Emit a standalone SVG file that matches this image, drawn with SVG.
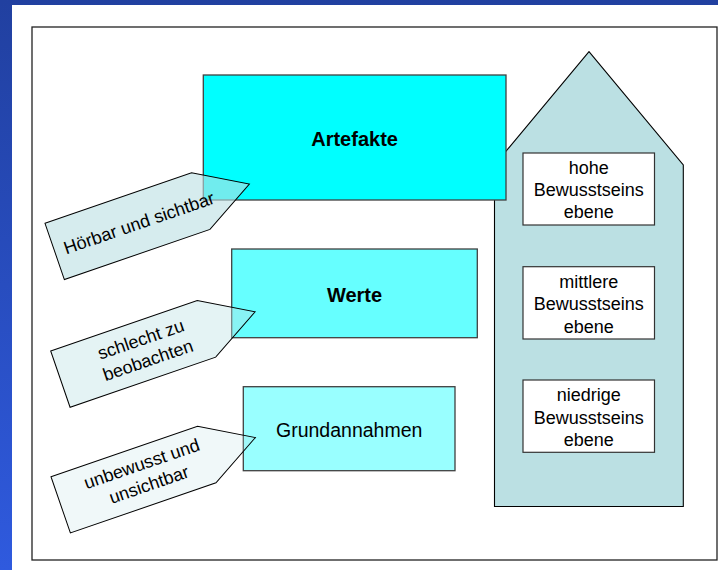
<svg xmlns="http://www.w3.org/2000/svg" width="718" height="570" viewBox="0 0 718 570">
  <defs>
    <linearGradient id="frameGrad" x1="0" y1="0" x2="0" y2="1">
      <stop offset="0" stop-color="#2140a0"/>
      <stop offset="1" stop-color="#2f5ade"/>
    </linearGradient>
    <!-- pointed label tag, drawn unrotated; each instance is rotated into place -->
    <polygon id="tag" points="0,0 155,0 206,29.5 154,59.5 0,59.5"/>
  </defs>
  <style>
    text { font-family: "Liberation Sans", Arial, sans-serif; fill: #000; }
    .box { stroke: #404040; stroke-width: 1.3; }
    .level { fill: #ffffff; stroke: #333; stroke-width: 1.2; }
    .title { font-size: 20px; font-weight: bold; text-anchor: middle; }
    .plain { font-size: 19.5px; text-anchor: middle; }
    .small { font-size: 18px; text-anchor: middle; }
    .tag { stroke: #000; stroke-width: 1; }
  </style>

  <!-- slide background and white page -->
  <rect x="0" y="0" width="718" height="570" fill="url(#frameGrad)"/>
  <rect x="12" y="5" width="706" height="565" fill="#ffffff"/>
  <rect x="32" y="27" width="685" height="533" fill="#ffffff" stroke="#222" stroke-width="1.3"/>

  <!-- house of awareness levels -->
  <g id="house">
    <polygon points="494.5,165 589,51.7 683.3,165 683.3,506.5 494.5,506.5" fill="#bbe0e3" stroke="#000" stroke-width="1.1"/>
  </g>
  <g id="level-high">
    <rect class="level" x="523" y="153" width="131.5" height="72"/>
    <text class="small" x="588.75" y="173.5">hohe</text>
    <text class="small" x="588.75" y="196">Bewusstseins</text>
    <text class="small" x="588.75" y="218.3">ebene</text>
  </g>
  <g id="level-mid">
    <rect class="level" x="523" y="266.7" width="131.5" height="72.3"/>
    <text class="small" x="588.75" y="287.5">mittlere</text>
    <text class="small" x="588.75" y="310">Bewusstseins</text>
    <text class="small" x="588.75" y="332.5">ebene</text>
  </g>
  <g id="level-low">
    <rect class="level" x="523" y="380" width="131.5" height="72.3"/>
    <text class="small" x="588.75" y="401">niedrige</text>
    <text class="small" x="588.75" y="423.5">Bewusstseins</text>
    <text class="small" x="588.75" y="446">ebene</text>
  </g>

  <!-- culture layers -->
  <g id="artefakte">
    <rect class="box" x="203.3" y="75" width="302.7" height="125" fill="#00ffff"/>
    <text class="title" x="354.6" y="146">Artefakte</text>
  </g>
  <g id="werte">
    <rect class="box" x="231.7" y="249" width="245.6" height="88.7" fill="#66ffff"/>
    <text class="title" x="354.5" y="301.5">Werte</text>
  </g>
  <g id="grundannahmen">
    <rect class="box" x="243.3" y="386.7" width="211.7" height="84" fill="#99ffff"/>
    <text class="plain" x="349.2" y="437">Grundannahmen</text>
  </g>

  <!-- translucent tags pointing at the layers -->
  <g id="tag-hoerbar" transform="translate(45,223.3) rotate(-19)">
    <use href="#tag" class="tag" fill="#bbe0e3" fill-opacity="0.6"/>
    <text class="small" x="89" y="36.5">Hörbar und sichtbar</text>
  </g>
  <g id="tag-schlecht" transform="translate(50.7,351) rotate(-19)">
    <use href="#tag" class="tag" fill="#bbe0e3" fill-opacity="0.4"/>
    <text class="small" x="89" y="24.5">schlecht zu</text>
    <text class="small" x="89" y="46.5">beobachten</text>
  </g>
  <g id="tag-unbewusst" transform="translate(51,476.7) rotate(-19)">
    <use href="#tag" class="tag" fill="#bbe0e3" fill-opacity="0.22"/>
    <text class="small" x="90" y="23.5">unbewusst und</text>
    <text class="small" x="90" y="45.5">unsichtbar</text>
  </g>
</svg>
